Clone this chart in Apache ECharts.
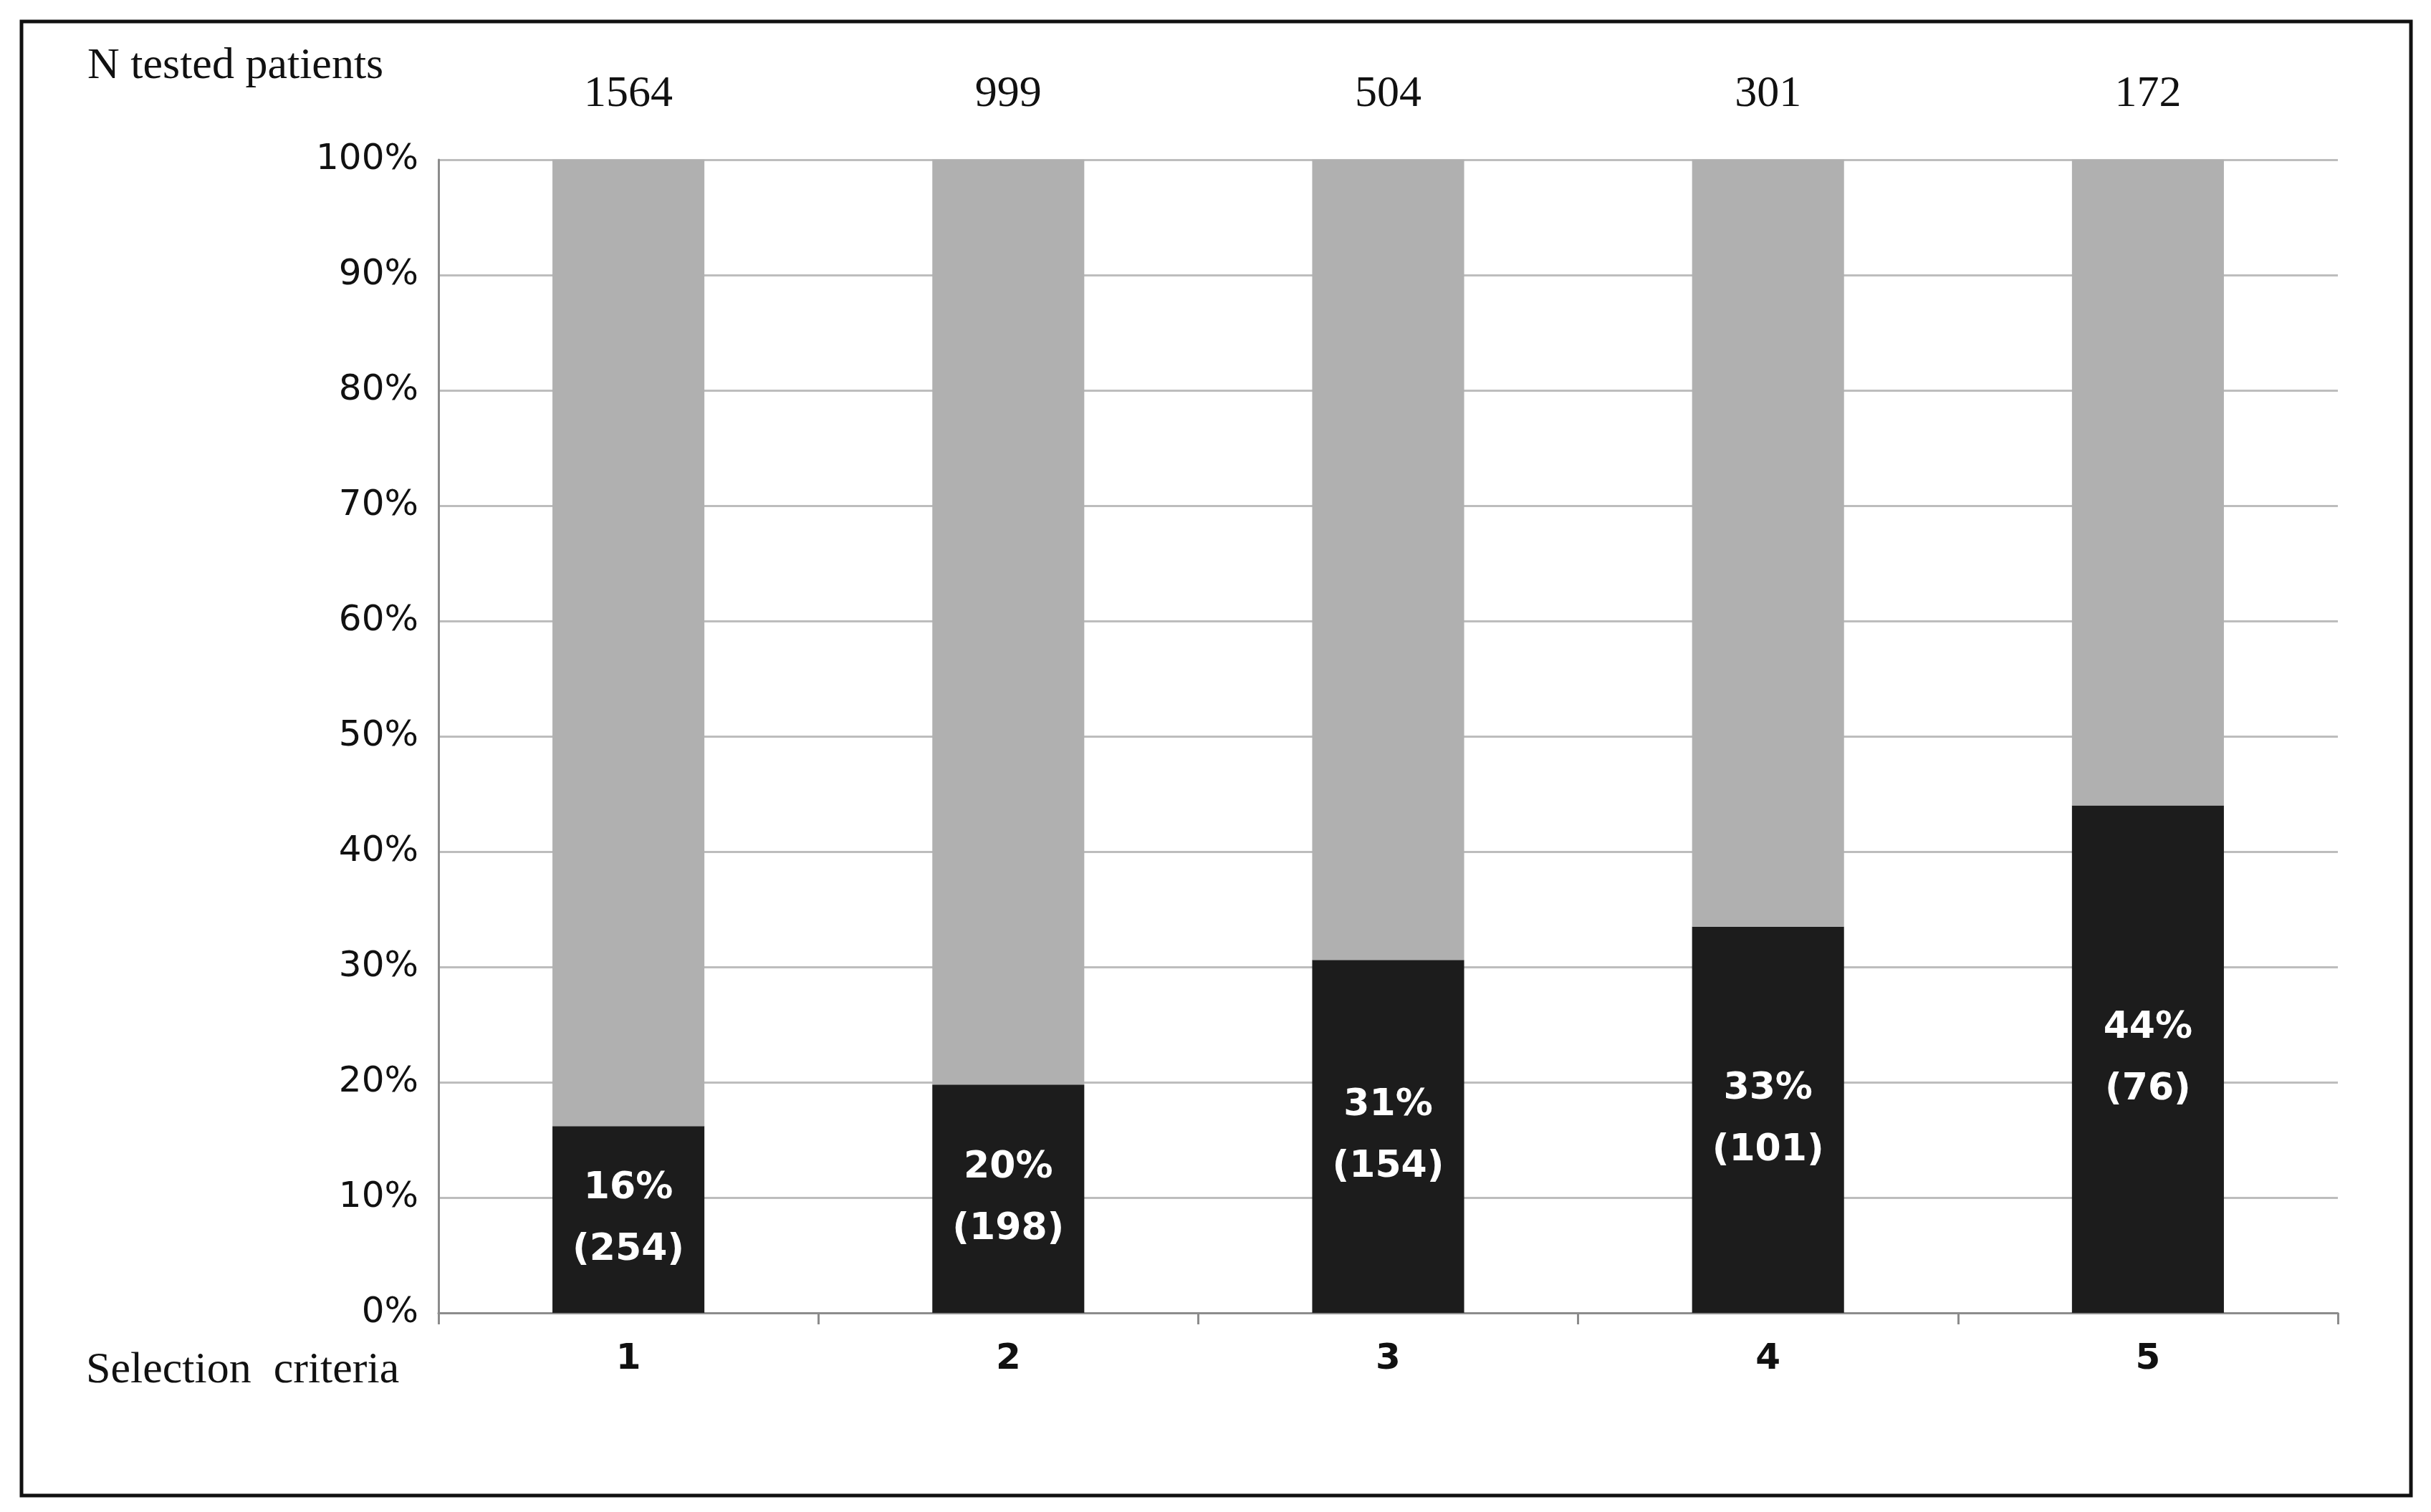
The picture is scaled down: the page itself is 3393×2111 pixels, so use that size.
<!DOCTYPE html>
<html><head><meta charset="utf-8">
<script src="https://cdn.jsdelivr.net/npm/echarts@6/dist/echarts.min.js"></script>
<style>html,body{margin:0;padding:0;background:#fff}#c{width:3393px;height:2111px}</style>
</head><body><div id="c"></div>
<script>
const categories = ['1','2','3','4','5'];
const nTested = ['1564','999','504','301','172'];
const positivePct = [16.2, 19.8, 30.6, 33.5, 44.0];
const positiveN = ['254','198','154','101','76'];
const labelPct = ['16%','20%','31%','33%','44%'];
const restPct = positivePct.map(v => 100 - v);

const chart = echarts.init(document.getElementById('c'));
chart.setOption({
  animation: false,
  backgroundColor: '#fff',
  grid: {left: 612, right: 130, top: 223, bottom: 278},
  xAxis: [{
    type: 'category', data: categories, position: 'bottom',
    axisLine: {lineStyle: {color: '#8c8c8c', width: 3}},
    axisTick: {show: true, length: 16, lineStyle: {color: '#8c8c8c', width: 3}},
    axisLabel: {fontFamily: 'DejaVu Sans', fontWeight: 'bold', fontSize: 50, color: '#111', margin: 40}
  }, {
    type: 'category', data: nTested, position: 'top',
    axisLine: {show: false}, axisTick: {show: false},
    axisLabel: {fontFamily: 'Liberation Serif', fontSize: 62, color: '#111', margin: 60}
  }],
  yAxis: {
    type: 'value', min: 0, max: 100, interval: 10,
    axisLine: {show: true, lineStyle: {color: '#8c8c8c', width: 3}},
    axisTick: {show: false},
    splitLine: {lineStyle: {color: '#bdbdbd', width: 3}},
    axisLabel: {formatter: '{value}%', fontFamily: 'DejaVu Sans', fontSize: 50, color: '#111', margin: 28}
  },
  series: [{
    type: 'bar', stack: 's', data: positivePct, barWidth: '40%',
    itemStyle: {color: '#1c1c1c'},
    label: {show: true, position: 'inside', color: '#fff', fontFamily: 'DejaVu Sans', fontWeight: 'bold', fontSize: 52, lineHeight: 86,
      formatter: p => labelPct[p.dataIndex] + '\n(' + positiveN[p.dataIndex] + ')'}
  }, {
    type: 'bar', stack: 's', data: restPct, barWidth: '40%',
    itemStyle: {color: '#b0b0b0'}
  }],
  graphic: [
    {type: 'rect', shape: {x: 30, y: 30, width: 3335, height: 2058}, style: {fill: 'none', stroke: '#111', lineWidth: 5}},
    {type: 'text', left: 122, top: 62, style: {text: 'N tested patients', fontFamily: 'Liberation Serif', fontSize: 62, fill: '#111'}},
    {type: 'text', left: 120, top: 1883, style: {text: 'Selection  criteria', fontFamily: 'Liberation Serif', fontSize: 62, fill: '#111'}}
  ]
});
</script></body></html>
